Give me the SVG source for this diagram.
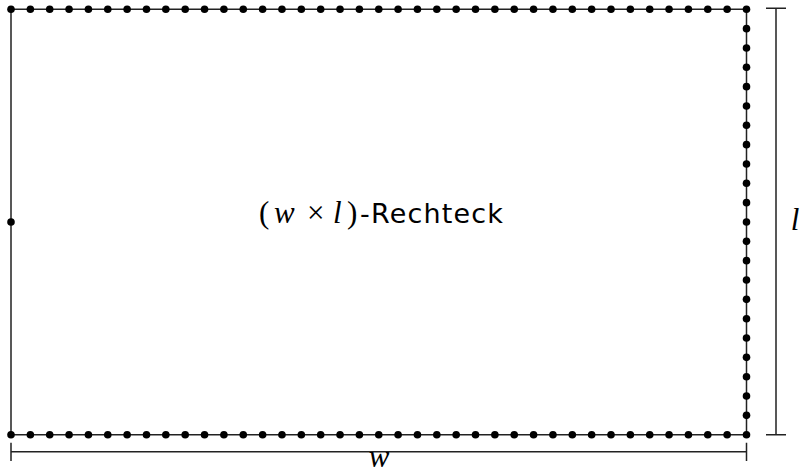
<svg xmlns="http://www.w3.org/2000/svg" xmlns:xlink="http://www.w3.org/1999/xlink" width="804" height="471" viewBox="0 0 804 471">
<style>
.ln{stroke:#222;stroke-width:1.5;fill:none}
.math{font-family:"Liberation Serif",serif;font-style:italic;font-size:31px;fill:#000}
.up{font-family:"Liberation Serif",serif;font-size:31px;fill:#000}
.sans{font-family:"DejaVu Sans","Liberation Sans",sans-serif;font-size:27px;fill:#000}
</style>
<defs>
<circle id="d" r="3.8" fill="#000"/>
</defs>
<rect width="804" height="471" fill="#fff"/>
<g id="connectors">
<path class="ln" d="M11 9.3H746.5V434.7H11Z"/>
<path class="ln" d="M776 8.3V434.7M766 8.3H786M766 434.7H786"/>
<path class="ln" d="M11 451.7H746.5M11 442.7V461M746.5 442.7V461"/>
</g>
<g id="top-dots">
<use xlink:href="#d" x="11" y="9.3"/><use xlink:href="#d" x="30.36" y="9.3"/><use xlink:href="#d" x="49.71" y="9.3"/><use xlink:href="#d" x="69.07" y="9.3"/><use xlink:href="#d" x="88.42" y="9.3"/><use xlink:href="#d" x="107.78" y="9.3"/><use xlink:href="#d" x="127.13" y="9.3"/><use xlink:href="#d" x="146.49" y="9.3"/><use xlink:href="#d" x="165.84" y="9.3"/><use xlink:href="#d" x="185.2" y="9.3"/><use xlink:href="#d" x="204.55" y="9.3"/><use xlink:href="#d" x="223.91" y="9.3"/><use xlink:href="#d" x="243.26" y="9.3"/><use xlink:href="#d" x="262.62" y="9.3"/><use xlink:href="#d" x="281.97" y="9.3"/><use xlink:href="#d" x="301.33" y="9.3"/><use xlink:href="#d" x="320.68" y="9.3"/><use xlink:href="#d" x="340.04" y="9.3"/><use xlink:href="#d" x="359.39" y="9.3"/><use xlink:href="#d" x="378.75" y="9.3"/><use xlink:href="#d" x="398.1" y="9.3"/><use xlink:href="#d" x="417.46" y="9.3"/><use xlink:href="#d" x="436.81" y="9.3"/><use xlink:href="#d" x="456.17" y="9.3"/><use xlink:href="#d" x="475.52" y="9.3"/><use xlink:href="#d" x="494.88" y="9.3"/><use xlink:href="#d" x="514.23" y="9.3"/><use xlink:href="#d" x="533.59" y="9.3"/><use xlink:href="#d" x="552.94" y="9.3"/><use xlink:href="#d" x="572.3" y="9.3"/><use xlink:href="#d" x="591.65" y="9.3"/><use xlink:href="#d" x="611.01" y="9.3"/><use xlink:href="#d" x="630.36" y="9.3"/><use xlink:href="#d" x="649.72" y="9.3"/><use xlink:href="#d" x="669.07" y="9.3"/><use xlink:href="#d" x="688.43" y="9.3"/><use xlink:href="#d" x="707.78" y="9.3"/><use xlink:href="#d" x="727.14" y="9.3"/><use xlink:href="#d" x="746.49" y="9.3"/>
</g>
<g id="bottom-dots">
<use xlink:href="#d" x="11" y="434.7"/><use xlink:href="#d" x="30.36" y="434.7"/><use xlink:href="#d" x="49.71" y="434.7"/><use xlink:href="#d" x="69.07" y="434.7"/><use xlink:href="#d" x="88.42" y="434.7"/><use xlink:href="#d" x="107.78" y="434.7"/><use xlink:href="#d" x="127.13" y="434.7"/><use xlink:href="#d" x="146.49" y="434.7"/><use xlink:href="#d" x="165.84" y="434.7"/><use xlink:href="#d" x="185.2" y="434.7"/><use xlink:href="#d" x="204.55" y="434.7"/><use xlink:href="#d" x="223.91" y="434.7"/><use xlink:href="#d" x="243.26" y="434.7"/><use xlink:href="#d" x="262.62" y="434.7"/><use xlink:href="#d" x="281.97" y="434.7"/><use xlink:href="#d" x="301.33" y="434.7"/><use xlink:href="#d" x="320.68" y="434.7"/><use xlink:href="#d" x="340.04" y="434.7"/><use xlink:href="#d" x="359.39" y="434.7"/><use xlink:href="#d" x="378.75" y="434.7"/><use xlink:href="#d" x="398.1" y="434.7"/><use xlink:href="#d" x="417.46" y="434.7"/><use xlink:href="#d" x="436.81" y="434.7"/><use xlink:href="#d" x="456.17" y="434.7"/><use xlink:href="#d" x="475.52" y="434.7"/><use xlink:href="#d" x="494.88" y="434.7"/><use xlink:href="#d" x="514.23" y="434.7"/><use xlink:href="#d" x="533.59" y="434.7"/><use xlink:href="#d" x="552.94" y="434.7"/><use xlink:href="#d" x="572.3" y="434.7"/><use xlink:href="#d" x="591.65" y="434.7"/><use xlink:href="#d" x="611.01" y="434.7"/><use xlink:href="#d" x="630.36" y="434.7"/><use xlink:href="#d" x="649.72" y="434.7"/><use xlink:href="#d" x="669.07" y="434.7"/><use xlink:href="#d" x="688.43" y="434.7"/><use xlink:href="#d" x="707.78" y="434.7"/><use xlink:href="#d" x="727.14" y="434.7"/><use xlink:href="#d" x="746.49" y="434.7"/>
</g>
<g id="right-dots">
<use xlink:href="#d" x="746.5" y="28.64"/><use xlink:href="#d" x="746.5" y="47.97"/><use xlink:href="#d" x="746.5" y="67.31"/><use xlink:href="#d" x="746.5" y="86.64"/><use xlink:href="#d" x="746.5" y="105.98"/><use xlink:href="#d" x="746.5" y="125.32"/><use xlink:href="#d" x="746.5" y="144.65"/><use xlink:href="#d" x="746.5" y="163.99"/><use xlink:href="#d" x="746.5" y="183.32"/><use xlink:href="#d" x="746.5" y="202.66"/><use xlink:href="#d" x="746.5" y="222"/><use xlink:href="#d" x="746.5" y="241.33"/><use xlink:href="#d" x="746.5" y="260.67"/><use xlink:href="#d" x="746.5" y="280"/><use xlink:href="#d" x="746.5" y="299.34"/><use xlink:href="#d" x="746.5" y="318.68"/><use xlink:href="#d" x="746.5" y="338.01"/><use xlink:href="#d" x="746.5" y="357.35"/><use xlink:href="#d" x="746.5" y="376.68"/><use xlink:href="#d" x="746.5" y="396.02"/><use xlink:href="#d" x="746.5" y="415.36"/>
</g>
<g id="left-dot">
<use xlink:href="#d" x="11" y="222"/>
</g>
<g id="label">
<text y="223"><tspan class="up" x="259">(</tspan><tspan class="math" x="274">w</tspan><tspan class="up" x="307">×</tspan><tspan class="math" x="333">l</tspan><tspan class="up" x="347">)</tspan><tspan class="sans" x="360" textLength="143" lengthAdjust="spacing">-Rechteck</tspan></text>
</g>
<g id="dim-l">
<text class="math" x="795" y="230" text-anchor="middle">l</text>
</g>
<g id="dim-w">
<text class="math" x="379" y="467" text-anchor="middle" font-size="29">w</text>
</g>
</svg>
